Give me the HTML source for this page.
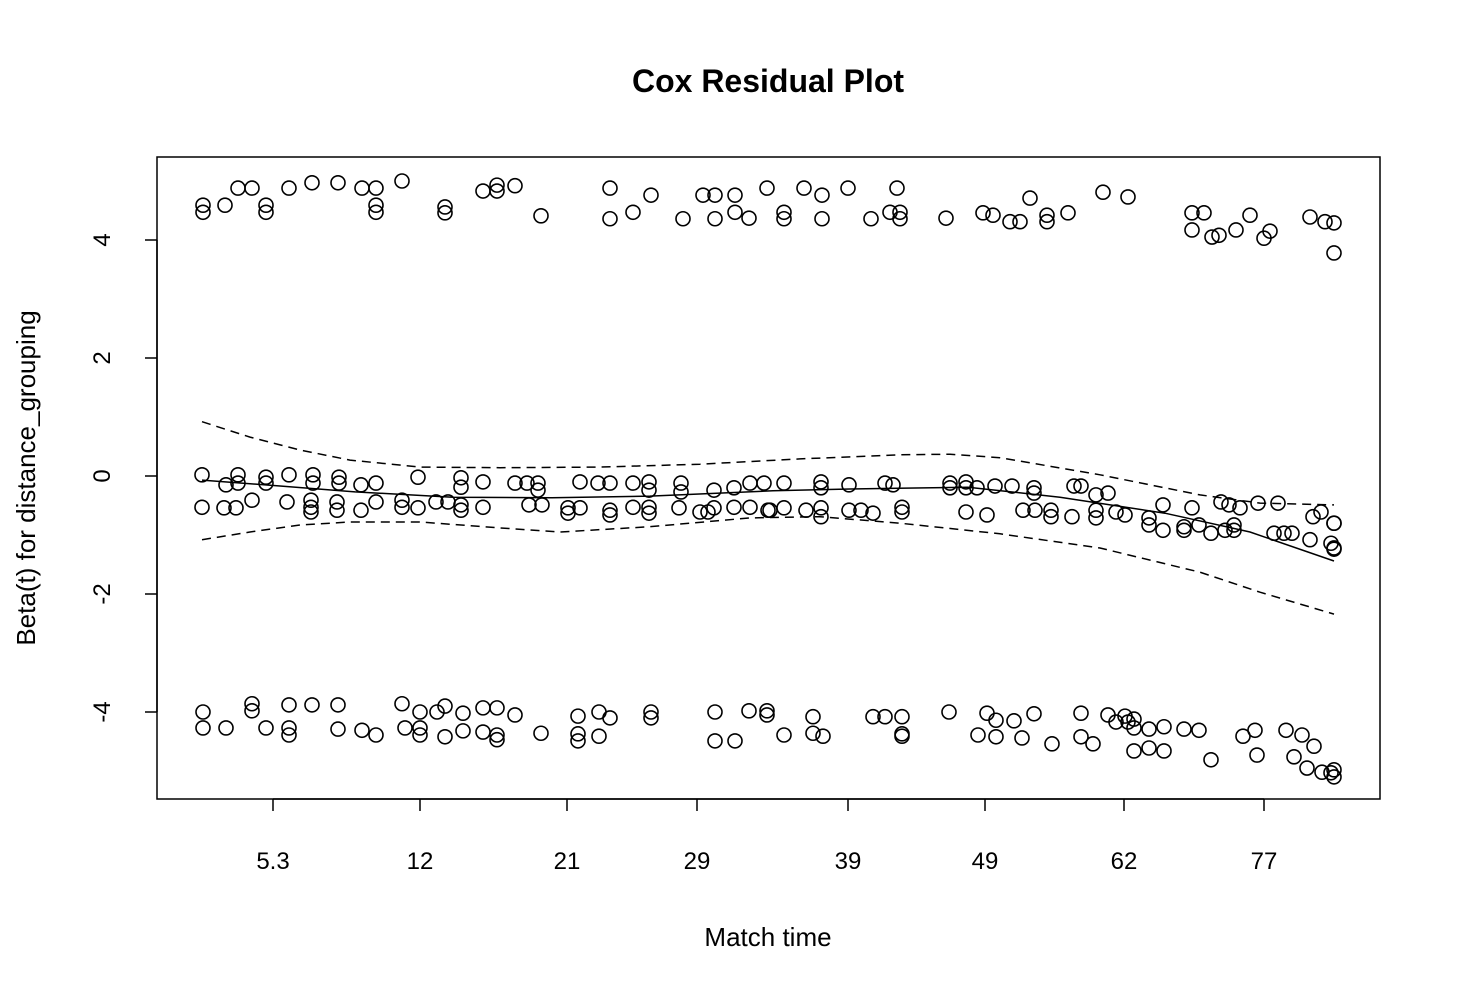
<!DOCTYPE html>
<html><head><meta charset="utf-8"><style>
body{margin:0;background:#fff;}
svg text{font-family:"Liberation Sans",Arial,sans-serif;fill:#000;}
</style></head><body>
<svg id="chart" width="1460" height="996" viewBox="0 0 1460 996" xmlns="http://www.w3.org/2000/svg">
<rect width="1460" height="996" fill="#fff"/>
<text x="768" y="92" font-size="32" font-weight="bold" text-anchor="middle">Cox Residual Plot</text>
<rect x="157" y="157" width="1223" height="642" fill="none" stroke="#000" stroke-width="1.5"/>
<text x="768" y="946" font-size="26" text-anchor="middle">Match time</text>
<text transform="translate(35,478) rotate(-90)" font-size="26" text-anchor="middle">Beta(t) for distance_grouping</text>
<g id="axes"></g><g id="lines"></g><g id="points"></g>
</svg>
<script>
const xTickVals=[116,263,410,540,691,828,967,1107];
const xTickLabels=["5.3","12","21","29","39","49","62","77"];
const yTickVals=[4,2,0,-2,-4];
const yTickLabels=["4","2","0","-2","-4"];
const topBand=[[46,4.59],[46,4.47],[68,4.59],[81,4.88],[95,4.88],[109,4.59],[109,4.47],[132,4.88],[155,4.97],[181,4.97],[205,4.88],[219,4.88],[219,4.59],[219,4.47],[245,5.0],[288,4.56],[288,4.46],[326,4.83],[340,4.93],[340,4.83],[358,4.92],[384,4.41],[453,4.88],[453,4.36],[476,4.47],[494,4.76],[526,4.36],[546,4.76],[558,4.76],[558,4.36],[578,4.76],[578,4.47],[592,4.37],[610,4.88],[627,4.47],[627,4.36],[647,4.88],[665,4.76],[665,4.36],[691,4.88],[714,4.36],[733,4.47],[740,4.88],[743,4.47],[743,4.36],[789,4.37],[826,4.46],[836,4.42],[853,4.31],[863,4.31],[873,4.71],[890,4.42],[890,4.31],[911,4.46],[946,4.81],[971,4.73],[1035,4.46],[1035,4.17],[1047,4.46],[1055,4.05],[1062,4.08],[1079,4.17],[1093,4.42],[1107,4.03],[1113,4.15],[1153,4.39],[1168,4.31],[1177,4.29],[1177,3.78]];
const midBand=[[45,0.02],[69,-0.15],[81,0.02],[81,-0.12],[109,-0.02],[109,-0.12],[132,0.02],[156,0.02],[156,-0.12],[182,-0.02],[182,-0.12],[204,-0.15],[219,-0.12],[261,-0.02],[304,-0.03],[304,-0.19],[326,-0.1],[358,-0.12],[370,-0.12],[381,-0.12],[381,-0.24],[423,-0.1],[441,-0.12],[453,-0.12],[476,-0.12],[492,-0.1],[492,-0.24],[524,-0.12],[524,-0.27],[557,-0.24],[577,-0.2],[593,-0.12],[607,-0.12],
[45,-0.53],[67,-0.54],[79,-0.54],[95,-0.41],[130,-0.44],[154,-0.41],[154,-0.53],[154,-0.61],[180,-0.44],[180,-0.58],[204,-0.58],[219,-0.44],[245,-0.41],[245,-0.53],[261,-0.54],[279,-0.44],[291,-0.44],[304,-0.49],[304,-0.58],[326,-0.53],[372,-0.49],[385,-0.49],[411,-0.54],[423,-0.54],[411,-0.63],[453,-0.58],[453,-0.66],[476,-0.53],[492,-0.53],[492,-0.63],[522,-0.54],[543,-0.61],[551,-0.61],[557,-0.54],[577,-0.53],[593,-0.53],[611,-0.58],
[627,-0.12],[664,-0.1],[664,-0.2],[692,-0.15],[728,-0.12],[736,-0.15],[793,-0.12],[793,-0.2],[809,-0.1],[809,-0.2],[820,-0.2],[838,-0.17],[855,-0.17],[877,-0.2],[877,-0.29],[917,-0.17],[924,-0.17],[939,-0.32],[951,-0.29],[1006,-0.49],[1035,-0.54],[1064,-0.44],[1072,-0.49],[1083,-0.54],[1101,-0.46],[1121,-0.46],[1164,-0.61],[1156,-0.69],[1177,-0.8],
[613,-0.58],[627,-0.54],[649,-0.58],[664,-0.54],[664,-0.69],[692,-0.58],[704,-0.58],[716,-0.63],[745,-0.53],[745,-0.61],[809,-0.61],[830,-0.66],[866,-0.58],[878,-0.58],[894,-0.58],[894,-0.69],[915,-0.69],[939,-0.58],[939,-0.71],[959,-0.61],[968,-0.66],[992,-0.71],[992,-0.83],[1006,-0.92],[1027,-0.86],[1027,-0.92],[1042,-0.83],[1054,-0.97],[1068,-0.92],[1077,-0.92],[1077,-0.83],[1117,-0.97],[1127,-0.97],[1135,-0.97],[1153,-1.08],[1174,-1.14],[1177,-1.22],[1177,-0.8],[1177,-1.24]];
const lowBand=[[46,-4.0],[46,-4.27],[69,-4.27],[95,-3.86],[95,-3.98],[109,-4.27],[132,-3.88],[132,-4.27],[132,-4.39],[155,-3.88],[181,-3.88],[181,-4.29],[205,-4.31],[219,-4.39],[245,-3.86],[248,-4.27],[263,-4.0],[263,-4.27],[263,-4.39],[280,-4.0],[288,-3.9],[288,-4.42],[306,-4.02],[306,-4.32],[326,-3.93],[326,-4.34],[340,-3.93],[340,-4.39],[340,-4.47],[358,-4.05],[384,-4.36],[421,-4.07],[421,-4.37],[421,-4.49],[442,-4.0],[442,-4.41],[453,-4.1],[494,-4.0],[494,-4.1],[558,-4.0],[558,-4.49],[578,-4.49],[592,-3.98],[610,-3.98],[610,-4.05],[627,-4.39],[656,-4.08],[656,-4.36],[666,-4.41],[716,-4.08],[728,-4.08],[745,-4.08],[745,-4.37],[745,-4.41],[792,-4.0],[821,-4.39],[830,-4.02],[839,-4.14],[839,-4.42],[857,-4.15],[865,-4.44],[877,-4.03],[895,-4.54],[924,-4.02],[924,-4.42],[936,-4.54],[951,-4.05],[959,-4.17],[968,-4.07],[971,-4.17],[977,-4.12],[977,-4.27],[992,-4.29],[977,-4.66],[992,-4.61],[1007,-4.25],[1007,-4.66],[1027,-4.29],[1042,-4.31],[1054,-4.81],[1086,-4.41],[1098,-4.31],[1100,-4.73],[1129,-4.31],[1145,-4.39],[1157,-4.58],[1137,-4.76],[1150,-4.95],[1165,-5.02],[1174,-5.03],[1177,-4.98],[1177,-5.1]];
const fitLine=[[45,-0.07],[123,-0.17],[198,-0.27],[296,-0.36],[395,-0.37],[493,-0.34],[616,-0.25],[693,-0.22],[811,-0.19],[903,-0.36],[1008,-0.63],[1093,-0.95],[1177,-1.44]];
const upperBand=[[45,0.92],[93,0.66],[143,0.44],[193,0.27],[263,0.15],[343,0.14],[443,0.15],[543,0.2],[643,0.29],[743,0.36],[793,0.37],[843,0.31],[943,0.02],[1043,-0.32],[1103,-0.46],[1177,-0.49]];
const lowerBand=[[45,-1.08],[93,-0.95],[143,-0.83],[193,-0.78],[263,-0.78],[343,-0.88],[403,-0.95],[493,-0.86],[593,-0.71],[663,-0.69],[743,-0.8],[843,-0.98],[943,-1.22],[1043,-1.63],[1103,-1.97],[1177,-2.34]];

const NS="http://www.w3.org/2000/svg";
function sx(v){return 157+v;}
function sy(v){return 476-59*v;}
function mk(tag,attrs,parent){const e=document.createElementNS(NS,tag);for(const k in attrs)e.setAttribute(k,attrs[k]);parent.appendChild(e);return e;}
const axes=document.getElementById('axes');
mk('line',{x1:sx(xTickVals[0]),x2:sx(xTickVals[xTickVals.length-1]),y1:799,y2:799,stroke:'#000','stroke-width':1.5},axes);
xTickVals.forEach((v,i)=>{
  const t=mk('line',{x1:sx(v),x2:sx(v),y1:799,y2:811,stroke:'#000','stroke-width':1.5},axes);
  
  
  const l=mk('text',{x:sx(v),y:869,'font-size':24,'text-anchor':'middle'},axes);
  l.textContent=xTickLabels[i];
  
  
});
mk('line',{x1:157,x2:157,y1:sy(yTickVals[0]),y2:sy(yTickVals[yTickVals.length-1]),stroke:'#000','stroke-width':1.5},axes);
yTickVals.forEach((v,i)=>{
  const t=mk('line',{x1:145,x2:157,y1:sy(v),y2:sy(v),stroke:'#000','stroke-width':1.5},axes);
  
  
  const l=mk('text',{transform:`translate(110,${sy(v)}) rotate(-90)`,'font-size':24,'text-anchor':'middle'},axes);
  l.textContent=yTickLabels[i];
  
  
});
const lines=document.getElementById('lines');
function path(arr){return arr.map((p,i)=>(i?'L':'M')+sx(p[0]).toFixed(1)+','+sy(p[1]).toFixed(1)).join(' ');}
const fl=mk('path',{d:path(fitLine),fill:'none',stroke:'#000','stroke-width':1.5},lines);


const ub=mk('path',{d:path(upperBand),fill:'none',stroke:'#000','stroke-width':1.5,'stroke-dasharray':'9,6'},lines);


const lb=mk('path',{d:path(lowerBand),fill:'none',stroke:'#000','stroke-width':1.5,'stroke-dasharray':'9,6'},lines);


const pts=document.getElementById('points');
[topBand,midBand,lowBand].forEach(band=>band.forEach(p=>{
  const c=mk('circle',{cx:sx(p[0]),cy:sy(p[1]),r:7,fill:'none',stroke:'#000','stroke-width':1.6},pts);
  
  
}));
</script>
</body></html>
